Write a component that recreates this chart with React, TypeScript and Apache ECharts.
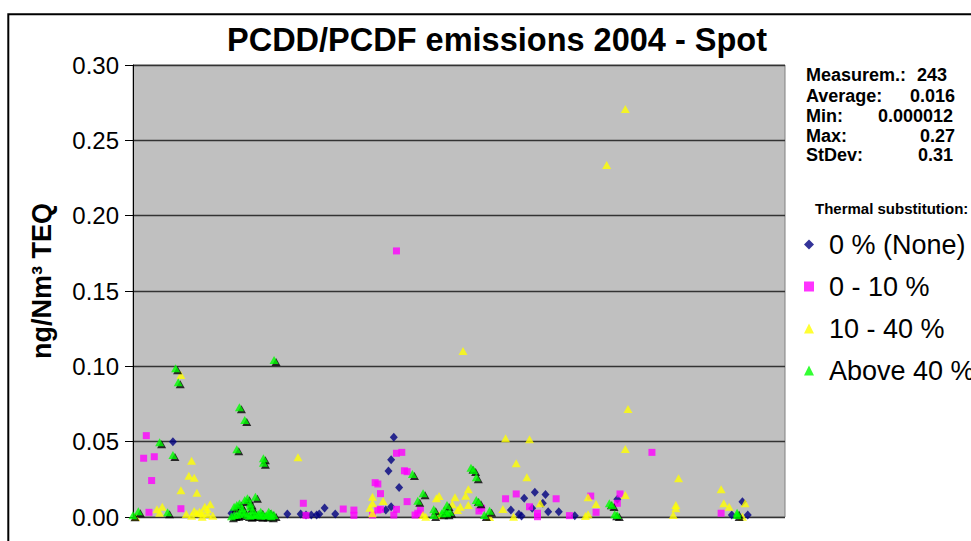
import React, { useEffect, useRef } from "react";
import * as echarts from "echarts";

const chartTitle = "PCDD/PCDF emissions 2004 - Spot";
const yAxisName = "ng/Nm³ TEQ";
const legendTitle = "Thermal substitution:";
const seriesNames = ["0 % (None)", "0 - 10 %", "10 - 40 %", "Above 40 %"];
const statLabels = ["Measurem.:", "Average:", "Min:", "Max:", "StDev:"];
const statValues = ["243", "0.016", "0.000012", "0.27", "0.31"];

// [measurement index, ng/Nm3 TEQ]
const noneData: number[][] = [
  [15, 0.05], [37, 0.0025], [58, 0.002], [63, 0.002], [65, 0.0013], [67, 0.0013],
  [69, 0.0013], [70, 0.002], [72, 0.006], [76, 0.002], [95, 0.0046], [96, 0.0305],
  [97, 0.038], [97, 0.0068], [98, 0.053], [100, 0.0195], [142, 0.0046], [145, 0.0018],
  [146, 0.0007], [147, 0.0124], [150, 0.0058], [151, 0.0164], [154, 0.0091], [155, 0.015],
  [156, 0.0035], [160, 0.0035], [166, 0.0009], [182, 0.0117], [225, 0.0013], [229, 0.0102],
  [231, 0.0013],
];

const lowData: number[][] = [
  [4, 0.039], [5, 0.054], [6, 0.0031], [7, 0.0242], [8, 0.04], [18, 0.0055], [64, 0.0091],
  [65, 0.0011], [79, 0.0053], [83, 0.0046], [83, 0.0011], [90, 0.0013], [91, 0.0228],
  [92, 0.0219], [92, 0.0046], [93, 0.0155], [93, 0.0051], [98, 0.0013], [99, 0.1766],
  [99, 0.0423], [99, 0.0051], [101, 0.0429], [102, 0.0307], [103, 0.0301], [103, 0.0102],
  [106, 0.0013], [107, 0.0025], [108, 0.0046], [130, 0.004], [131, 0.0058], [140, 0.0121],
  [144, 0.0153], [149, 0.0068], [152, 0.0025], [152, 0.0002], [159, 0.0121], [164, 0.0009],
  [172, 0.0139], [174, 0.0031], [182, 0.0091], [183, 0.0153], [195, 0.0429], [221, 0.0025],
];

const midData: number[][] = [
  [1, 0.0], [9, 0.0051], [10, 0.0029], [11, 0.0068], [18, 0.0942], [18, 0.0177], [20, 0.002],
  [21, 0.0274], [22, 0.0374], [22, 0.0009], [23, 0.0261], [23, 0.004], [24, 0.0161],
  [24, 0.0025], [25, 0.0035], [26, 0.0025], [26, 0.0002], [27, 0.0068], [28, 0.0051],
  [28, 0.002], [29, 0.0084], [30, 0.0008], [62, 0.0396], [89, 0.0062], [90, 0.0135],
  [90, 0.0091], [90, 0.0025], [94, 0.0106], [109, 0.0013], [110, 0.0002], [114, 0.0124],
  [115, 0.0139], [115, 0.0013], [120, 0.0084], [121, 0.0131], [122, 0.0046], [123, 0.0068],
  [124, 0.1102], [125, 0.0141], [126, 0.0184], [126, 0.008], [134, 0.0], [139, 0.0053],
  [140, 0.0522], [143, 0.0002], [144, 0.0356], [148, 0.0263], [149, 0.0516], [153, 0.0091],
  [170, 0.0007], [171, 0.0018], [171, 0.0131], [174, 0.0086], [178, 0.2336], [185, 0.2708],
  [185, 0.0452], [185, 0.0146], [186, 0.0717], [203, 0.0013], [204, 0.008], [204, 0.0058],
  [205, 0.0257], [221, 0.0184], [222, 0.0091], [224, 0.0068], [229, 0.0002], [230, 0.0091],
];

const highData: number[][] = [
  [0, 0.0011], [2, 0.0038], [10, 0.0496], [13, 0.0031], [15, 0.0412], [16, 0.0987],
  [17, 0.0894], [37, 0.0005], [38, 0.0013], [38, 0.0068], [39, 0.0449], [39, 0.008],
  [39, 0.0015], [40, 0.0728], [40, 0.009], [40, 0.002], [41, 0.0058], [41, 0.0035],
  [42, 0.0644], [42, 0.0113], [42, 0.0025], [43, 0.0124], [43, 0.0013], [44, 0.009],
  [44, 0.0068], [44, 0.0008], [45, 0.0046], [45, 0.0015], [46, 0.0135], [46, 0.0013],
  [47, 0.002], [48, 0.0035], [48, 0.0008], [49, 0.039], [49, 0.036], [49, 0.0013],
  [50, 0.001], [51, 0.0035], [51, 0.0015], [52, 0.0025], [52, 0.0005], [53, 0.1042],
  [53, 0.0013], [105, 0.0285], [107, 0.0108], [109, 0.0157], [113, 0.0051], [113, 0.0013],
  [116, 0.0025], [117, 0.0046], [118, 0.008], [118, 0.0025], [119, 0.0035], [127, 0.0327],
  [128, 0.0312], [129, 0.0263], [129, 0.0113], [130, 0.0098], [132, 0.0013], [134, 0.0042],
  [179, 0.0091], [180, 0.008], [181, 0.0018], [182, 0.0013], [227, 0.0029], [227, 0.0013],
];

const FONT = "'Liberation Sans', Arial, Helvetica, sans-serif";

export default function App() {
  const ref = useRef<HTMLDivElement>(null);
  useEffect(() => {
    if (!ref.current) return;
    const chart = echarts.init(ref.current, null, { renderer: "svg" });
    const statValueRight = [947, 955, 953, 955, 953];
    const statY = [75, 96, 116, 136, 155];
    const graphics: any[] = [
      {
        type: "rect",
        shape: { x: 8.3, y: 14.3, width: 1000, height: 600 },
        style: { fill: "none", stroke: "#000", lineWidth: 2 },
        silent: true,
        z: 100,
      },
      {
        type: "text",
        x: 41.5,
        y: 281,
        rotation: Math.PI / 2,
        style: {
          text: yAxisName,
          font: `bold 27px ${FONT}`,
          fill: "#000",
          textAlign: "center",
          textVerticalAlign: "middle",
        },
      },
      {
        type: "text",
        x: 815,
        y: 208,
        style: {
          text: legendTitle,
          font: `bold 15px ${FONT}`,
          fill: "#000",
          textAlign: "left",
          textVerticalAlign: "middle",
        },
      },
    ];
    statLabels.forEach((lab, i) => {
      graphics.push({
        type: "text",
        x: 806,
        y: statY[i],
        style: { text: lab, font: `bold 18px ${FONT}`, fill: "#000", textAlign: "left", textVerticalAlign: "middle" },
      });
      graphics.push({
        type: "text",
        x: statValueRight[i],
        y: statY[i],
        style: { text: statValues[i], font: `bold 18px ${FONT}`, fill: "#000", textAlign: "right", textVerticalAlign: "middle" },
      });
    });

    const option: any = {
      animation: false,
      backgroundColor: "#fff",
      title: {
        text: chartTitle,
        left: 492,
        top: 18,
        textAlign: "center",
        textStyle: { fontFamily: FONT, fontWeight: "bold", fontSize: 32.5, color: "#000" },
      },
      grid: {
        left: 133,
        right: 186,
        top: 65,
        bottom: 24,
        show: true,
        backgroundColor: "#C0C0C0",
        borderColor: "#808080",
        borderWidth: 1,
      },
      xAxis: {
        type: "value",
        min: 0,
        max: 245,
        show: false,
      },
      yAxis: {
        type: "value",
        min: 0,
        max: 0.3,
        interval: 0.05,
        axisLine: { show: true, lineStyle: { color: "#000", width: 1 } },
        axisTick: { show: true, length: 8, lineStyle: { color: "#000" } },
        axisLabel: {
          margin: 14,
          fontFamily: FONT,
          fontSize: 24,
          color: "#000",
          formatter: (v: number) => v.toFixed(2),
        },
        splitLine: { show: true, lineStyle: { color: "#333", width: 1.3 } },
      },
      legend: {
        data: seriesNames,
        orient: "vertical",
        left: 799,
        top: 226,
        itemWidth: 10,
        itemHeight: 10,
        itemGap: 15,
        selectedMode: false,
        textStyle: { fontFamily: FONT, fontSize: 27, color: "#000", padding: [0, 0, 0, 10] },
      },
      series: [
        {
          name: seriesNames[0],
          type: "scatter",
          symbol: "diamond",
          symbolSize: [8, 9],
          itemStyle: { color: "#000080" },
          data: noneData,
        },
        {
          name: seriesNames[1],
          type: "scatter",
          symbol: "rect",
          symbolSize: 7,
          itemStyle: { color: "#FF00FF" },
          data: lowData,
        },
        {
          name: seriesNames[2],
          type: "scatter",
          symbol: "triangle",
          symbolSize: [9, 8],
          itemStyle: { color: "#FFFF00" },
          data: midData,
        },
        {
          name: "shadow",
          type: "scatter",
          symbol: "triangle",
          symbolSize: [9, 8],
          symbolOffset: [2, 2],
          itemStyle: { color: "#000000" },
          data: highData,
          silent: true,
        },
        {
          name: seriesNames[3],
          type: "scatter",
          symbol: "triangle",
          symbolSize: [9, 8],
          itemStyle: { color: "#00FF00" },
          data: highData,
        },
      ],
      graphic: graphics,
    };
    chart.setOption(option);
    return () => chart.dispose();
  }, []);
  return (
    <div
      ref={ref}
      style={{ position: "fixed", left: 0, top: 0, width: 971, height: 541, background: "#fff" }}
    />
  );
}
